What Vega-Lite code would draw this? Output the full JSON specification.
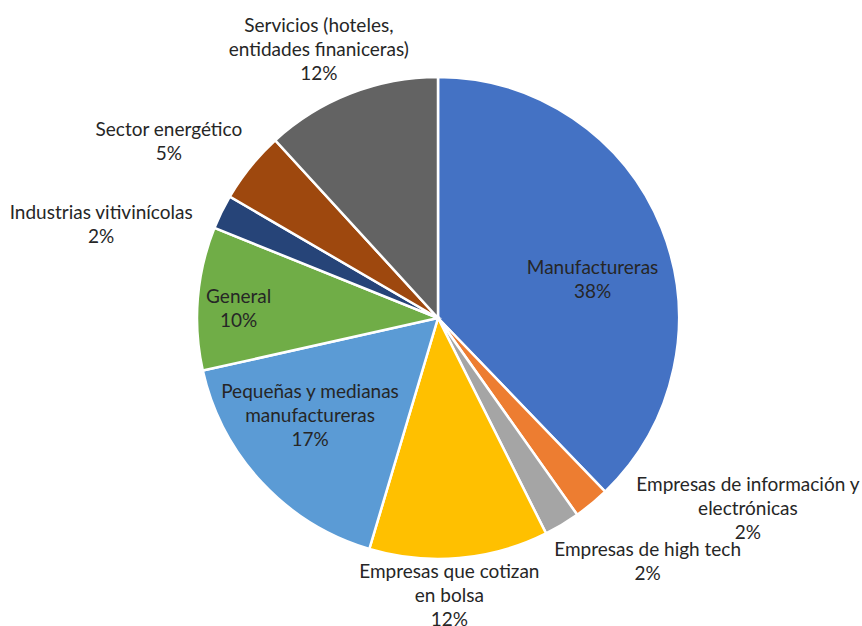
{
  "$schema": "https://vega.github.io/schema/vega-lite/v6.json",
  "width": 848,
  "height": 616,
  "autosize": {"type": "none"},
  "padding": {"left": 14, "top": 10, "right": 0, "bottom": 0},
  "background": "white",
  "view": {"stroke": null},
  "config": {"text": {"font": "Lato", "fontSize": 19, "lineBreak": "\n", "lineHeight": 24, "color": "#262626", "align": "center", "baseline": "middle"}},
  "data": {
    "values": [
      {"order": 1, "cat": "Manufactureras", "value": 37.8, "label": "Manufactureras\n38%"},
      {"order": 2, "cat": "Info", "value": 2.4, "label": "Empresas de información y\nelectrónicas\n2%"},
      {"order": 3, "cat": "HighTech", "value": 2.4, "label": "Empresas de high tech\n2%"},
      {"order": 4, "cat": "Bolsa", "value": 12.0, "label": "Empresas que cotizan\nen bolsa\n12%"},
      {"order": 5, "cat": "PyME", "value": 16.9, "label": "Pequeñas y medianas\nmanufactureras\n17%"},
      {"order": 6, "cat": "General", "value": 9.6, "label": "General\n10%"},
      {"order": 7, "cat": "Vitivinicolas", "value": 2.3, "label": "Industrias vitivinícolas\n2%"},
      {"order": 8, "cat": "Energetico", "value": 4.8, "label": "Sector energético\n5%"},
      {"order": 9, "cat": "Servicios", "value": 11.8, "label": "Servicios (hoteles,\nentidades finaniceras)\n12%"}
    ]
  },
  "encoding": {
    "theta": {"field": "value", "type": "quantitative", "stack": true},
    "order": {"field": "order", "type": "quantitative"}
  },
  "layer": [
    {
      "mark": {"type": "arc", "outerRadius": 241, "stroke": "white", "strokeWidth": 2.5},
      "encoding": {
        "color": {
          "field": "cat", "type": "nominal", "legend": null,
          "scale": {
            "domain": ["Manufactureras", "Info", "HighTech", "Bolsa", "PyME", "General", "Vitivinicolas", "Energetico", "Servicios"],
            "range": ["#4472C4", "#ED7D31", "#A5A5A5", "#FFC000", "#5B9BD5", "#70AD47", "#264478", "#9E480E", "#636363"]
          }
        }
      }
    },
    {"mark": {"type": "text", "radius": 158, "dx": 8, "dy": 9},
     "encoding": {"text": {"condition": {"test": "datum.cat === 'Manufactureras'", "field": "label"}, "value": ""}}},
    {"mark": {"type": "text", "radius": 345, "dx": 90, "dy": -99},
     "encoding": {"text": {"condition": {"test": "datum.cat === 'Info'", "field": "label"}, "value": ""}}},
    {"mark": {"type": "text", "radius": 318, "dx": 46, "dy": -41},
     "encoding": {"text": {"condition": {"test": "datum.cat === 'HighTech'", "field": "label"}, "value": ""}}},
    {"mark": {"type": "text", "radius": 277, "dx": -13, "dy": -22},
     "encoding": {"text": {"condition": {"test": "datum.cat === 'Bolsa'", "field": "label"}, "value": ""}}},
    {"mark": {"type": "text", "radius": 160, "dx": -11, "dy": -35},
     "encoding": {"text": {"condition": {"test": "datum.cat === 'PyME'", "field": "label"}, "value": ""}}},
    {"mark": {"type": "text", "radius": 200, "dx": 0, "dy": -5},
     "encoding": {"text": {"condition": {"test": "datum.cat === 'General'", "field": "label"}, "value": ""}}},
    {"mark": {"type": "text", "radius": 345, "dx": -27, "dy": 47},
     "encoding": {"text": {"condition": {"test": "datum.cat === 'Vitivinicolas'", "field": "label"}, "value": ""}}},
    {"mark": {"type": "text", "radius": 320, "dx": -20, "dy": 13},
     "encoding": {"text": {"condition": {"test": "datum.cat === 'Energetico'", "field": "label"}, "value": ""}}},
    {"mark": {"type": "text", "radius": 293, "dx": -13, "dy": -19},
     "encoding": {"text": {"condition": {"test": "datum.cat === 'Servicios'", "field": "label"}, "value": ""}}}
  ]
}
